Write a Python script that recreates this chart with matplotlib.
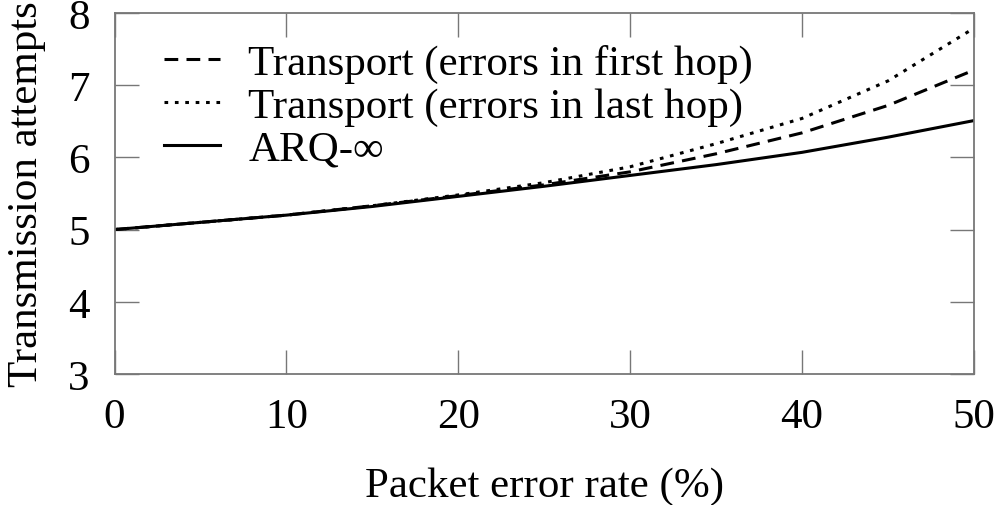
import numpy as np
import matplotlib
matplotlib.use('Agg')
import matplotlib.pyplot as plt

# packet error rate (%)
per = [0, 5, 10, 15, 20, 25, 30, 35, 40, 45, 50]
first_hop = [5.0, 5.1, 5.2, 5.33, 5.47, 5.62, 5.80, 6.05, 6.34, 6.72, 7.21]
last_hop = [5.0, 5.1, 5.2, 5.33, 5.48, 5.65, 5.87, 6.19, 6.54, 7.06, 7.79]
arq = [5.0, 5.1, 5.2, 5.32, 5.46, 5.6, 5.75, 5.9, 6.07, 6.28, 6.51]

plt.rcParams['font.family'] = ['Liberation Serif', 'DejaVu Serif']
plt.rcParams['font.size'] = 31

fig = plt.figure(figsize=(10, 5.06), dpi=100)
ax = fig.add_axes([0.1145, 0.259, 0.8595, 0.7133])

ax.plot(per, first_hop, color='black', lw=2.2, linestyle=(0, (4.5, 2.7)),
        label='Transport (errors in first hop)')
ax.plot(per, last_hop, color='black', lw=2.2, linestyle=(0, (1.2, 2.2)),
        label='Transport (errors in last hop)')
ax.plot(per, arq, color='black', lw=2.2, label='ARQ-\u221e')

ax.set_xlim(0, 50)
ax.set_ylim(3, 8)
ax.set_xticks(np.arange(0, 51, 10))
ax.set_yticks(np.arange(3, 9, 1))

for s in ax.spines.values():
    s.set_color('#777777')
    s.set_linewidth(1.3)
ax.tick_params(direction='in', length=17, width=1.0, color='#777777',
               top=True, right=True, labelsize=31)
ax.tick_params(axis='x', pad=17)
ax.tick_params(axis='y', pad=18)

ax.set_xlabel('Packet error rate (%)', fontsize=31, labelpad=22)
ax.set_ylabel('Transmission attempts', fontsize=31, labelpad=16, y=0.5)

ax.legend(loc='upper left', bbox_to_anchor=(0.023, 0.997), frameon=False,
          fontsize=31, handlelength=1.3, handletextpad=0.65,
          labelspacing=0.08, borderpad=0.2)

fig.savefig('out.png', dpi=100)
